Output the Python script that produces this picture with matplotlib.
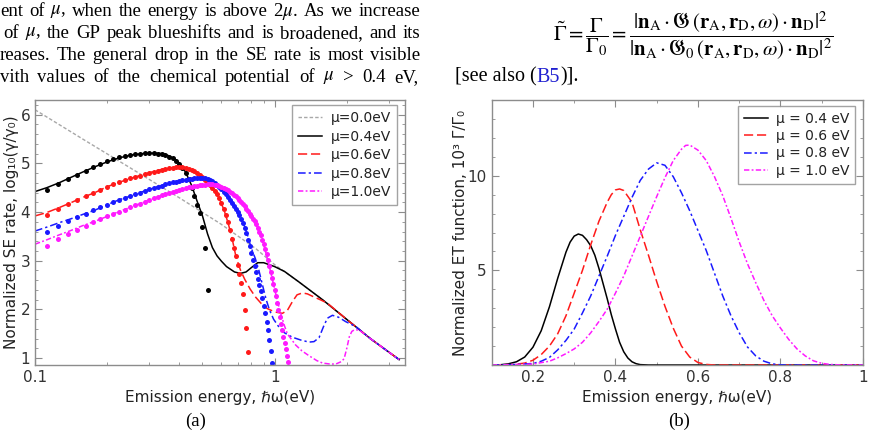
import numpy as np
import matplotlib
matplotlib.use('Agg')
import matplotlib.pyplot as plt
from matplotlib.ticker import LogLocator, MultipleLocator, NullFormatter

plt.rcParams['font.family'] = ['DejaVu Sans']
plt.rcParams['mathtext.fontset'] = 'stix'

# ---------------- panel (a): SE rate, log10(gamma/gamma0) ----------------
grey_x = [0.1, 0.158, 0.251, 0.398, 0.594, 0.834, 1.0, 1.259, 1.585, 1.995, 2.512, 3.31]
grey_y = [6.1, 5.5, 4.9, 4.3, 3.76, 3.25, 2.92, 2.57, 2.2, 1.8, 1.4, 0.97]

black_x = [0.1, 0.112, 0.126, 0.141, 0.158, 0.178, 0.2, 0.224, 0.251, 0.282, 0.316, 0.34, 0.36,
           0.38, 0.4, 0.425, 0.45, 0.475, 0.5, 0.525, 0.55, 0.575, 0.6, 0.63, 0.68, 0.72, 0.76,
           0.8, 0.85, 0.9, 1.0, 1.1, 1.259, 1.585, 1.995, 2.512, 3.31]
black_y = [4.42, 4.5, 4.6, 4.71, 4.82, 4.93, 5.03, 5.11, 5.17, 5.2, 5.21, 5.2, 5.16,
           5.1, 5.0, 4.82, 4.55, 4.22, 3.92, 3.55, 3.27, 3.1, 2.99, 2.88, 2.77, 2.74, 2.77,
           2.86, 2.96, 2.96, 2.88, 2.78, 2.57, 2.2, 1.8, 1.4, 0.97]

red_x = [0.1, 0.112, 0.126, 0.141, 0.158, 0.178, 0.2, 0.224, 0.251, 0.282, 0.316, 0.355, 0.39,
         0.42, 0.46, 0.5, 0.53, 0.557, 0.585, 0.614, 0.64, 0.665, 0.69, 0.72, 0.75, 0.79, 0.834,
         0.88, 0.93, 1.0, 1.077, 1.13, 1.186, 1.24, 1.306, 1.37, 1.44, 1.55, 1.66, 1.995, 2.512, 3.31]
red_y = [3.92, 3.99, 4.09, 4.19, 4.3, 4.4, 4.52, 4.61, 4.69, 4.77, 4.84, 4.9, 4.92,
         4.92, 4.85, 4.71, 4.59, 4.46, 4.3, 4.05, 3.77, 3.45, 3.08, 2.81, 2.62, 2.42, 2.25,
         2.12, 2.02, 1.95, 1.92, 1.98, 2.16, 2.3, 2.34, 2.32, 2.27, 2.2, 2.13, 1.8, 1.4, 0.97]

blue_x = [0.1, 0.112, 0.126, 0.141, 0.158, 0.178, 0.2, 0.224, 0.251, 0.282, 0.316, 0.355, 0.4,
          0.44, 0.48, 0.52, 0.557, 0.6, 0.634, 0.67, 0.709, 0.74, 0.77, 0.8, 0.83, 0.86, 0.89,
          0.92, 0.95, 0.99, 1.042, 1.1, 1.186, 1.29, 1.392, 1.46, 1.532, 1.6, 1.66, 1.743, 1.85,
          1.98, 2.18, 2.512, 3.31]
blue_y = [3.61, 3.69, 3.78, 3.86, 3.95, 4.04, 4.15, 4.25, 4.33, 4.42, 4.5, 4.58, 4.64,
          4.68, 4.7, 4.69, 4.62, 4.47, 4.33, 4.15, 3.96, 3.78, 3.53, 3.25, 3.05, 2.8, 2.5,
          2.22, 2.0, 1.8, 1.64, 1.52, 1.43, 1.37, 1.33, 1.34, 1.42, 1.65, 1.82, 1.88, 1.84,
          1.75, 1.65, 1.4, 0.97]

mag_x = [0.1, 0.112, 0.126, 0.141, 0.158, 0.178, 0.2, 0.224, 0.251, 0.282, 0.316, 0.355, 0.4,
         0.45, 0.5, 0.55, 0.6, 0.65, 0.7, 0.75, 0.8, 0.84, 0.874, 0.9, 0.94, 0.97, 1.0, 1.03,
         1.06, 1.1, 1.13, 1.224, 1.3, 1.392, 1.5, 1.585, 1.7, 1.8, 1.9, 1.95, 2.0, 2.05, 2.1,
         2.15, 2.25, 2.512, 3.31]
mag_y = [3.34, 3.43, 3.53, 3.62, 3.72, 3.81, 3.91, 4.01, 4.1, 4.2, 4.29, 4.38, 4.45,
         4.52, 4.56, 4.57, 4.52, 4.42, 4.28, 4.12, 3.92, 3.72, 3.52, 3.33, 2.98, 2.7, 2.42, 2.15,
         1.92, 1.66, 1.5, 1.27, 1.15, 1.05, 0.95, 0.9, 0.88, 0.88, 0.93, 0.99, 1.2, 1.44, 1.55,
         1.58, 1.58, 1.4, 0.97]

# energies of the dotted (approximate) results, shared by all four dot series
dot_x = [0.1125, 0.125, 0.1375, 0.15, 0.1625, 0.175, 0.1875, 0.2, 0.2125, 0.225, 0.2375, 0.25,
         0.2625, 0.275, 0.2875, 0.3, 0.3125, 0.325, 0.3375, 0.35, 0.3625, 0.375, 0.3875, 0.4,
         0.4125, 0.425, 0.4375, 0.45, 0.4625, 0.475, 0.4875, 0.5, 0.5125, 0.525, 0.5375, 0.55,
         0.5625, 0.575, 0.5875, 0.6, 0.6125, 0.625, 0.6375, 0.65, 0.6625, 0.675, 0.6875, 0.7,
         0.7125, 0.725, 0.7375, 0.75, 0.7625, 0.775, 0.7875, 0.8, 0.8125, 0.825, 0.8375, 0.85,
         0.8625, 0.875, 0.8875, 0.9, 0.9125, 0.925, 0.9375, 0.95, 0.9625, 0.975, 0.9875, 1.0,
         1.0125, 1.025, 1.0375, 1.05, 1.0625, 1.075, 1.0875, 1.1, 1.1125, 1.125, 1.1375]

black_dots = [4.46, 4.58, 4.68, 4.77, 4.85, 4.92, 4.99, 5.04, 5.08, 5.12, 5.15, 5.17, 5.19, 5.2,
              5.21, 5.21, 5.21, 5.2, 5.19, 5.17, 5.14, 5.1, 5.05, 4.98, 4.9, 4.8, 4.67, 4.5,
              4.32, 4.15, 3.98, 3.7, 3.27, 2.4]
red_dots = [3.94, 4.06, 4.16, 4.25, 4.33, 4.4, 4.46, 4.52, 4.57, 4.61, 4.65, 4.69, 4.72, 4.75,
            4.78, 4.81, 4.83, 4.85, 4.87, 4.89, 4.9, 4.91, 4.92, 4.92, 4.92, 4.91, 4.89, 4.87,
            4.84, 4.8, 4.76, 4.71, 4.66, 4.61, 4.56, 4.5, 4.44, 4.37, 4.29, 4.19, 4.07, 3.93,
            3.79, 3.63, 3.45, 3.27, 3.09, 2.91, 2.73, 2.55, 2.32, 1.99, 1.61, 1.13]
blue_dots = [3.58, 3.72, 3.82, 3.9, 3.97, 4.04, 4.1, 4.15, 4.2, 4.25, 4.29, 4.33, 4.37, 4.4,
             4.44, 4.47, 4.49, 4.52, 4.54, 4.57, 4.59, 4.61, 4.62, 4.64, 4.65, 4.66, 4.67, 4.68,
             4.69, 4.69, 4.7, 4.7, 4.69, 4.68, 4.66, 4.63, 4.6, 4.56, 4.52, 4.47, 4.42, 4.37,
             4.31, 4.25, 4.19, 4.13, 4.07, 4.01, 3.94, 3.86, 3.78, 3.68, 3.56, 3.43, 3.3, 3.16,
             3.02, 2.89, 2.76, 2.63, 2.5, 2.37, 2.23, 2.08, 1.92, 1.75, 1.57, 1.37, 1.15, 0.91]
mag_dots = [3.3, 3.45, 3.55, 3.64, 3.72, 3.79, 3.85, 3.91, 3.96, 4.01, 4.05, 4.1, 4.14, 4.17,
            4.21, 4.25, 4.28, 4.31, 4.34, 4.37, 4.39, 4.41, 4.43, 4.45, 4.47, 4.49, 4.51, 4.52,
            4.53, 4.54, 4.55, 4.56, 4.56, 4.57, 4.57, 4.57, 4.56, 4.55, 4.54, 4.52, 4.5, 4.48,
            4.45, 4.42, 4.39, 4.35, 4.32, 4.28, 4.24, 4.2, 4.16, 4.12, 4.07, 4.02, 3.97, 3.92,
            3.86, 3.81, 3.75, 3.68, 3.6, 3.52, 3.43, 3.34, 3.24, 3.13, 3.01, 2.89, 2.77, 2.65,
            2.53, 2.4, 2.27, 2.13, 1.99, 1.85, 1.71, 1.57, 1.44, 1.31, 1.18, 1.05, 0.92]

labels_a = ['μ=0.0eV', 'μ=0.4eV', 'μ=0.6eV', 'μ=0.8eV', 'μ=1.0eV']

# ---------------- panel (b): ET function, 10^3 Gamma/Gamma0 ----------------
b_black_x = [0.1, 0.12, 0.14, 0.16, 0.18, 0.2, 0.22, 0.24, 0.26, 0.28, 0.29, 0.3, 0.31, 0.32,
             0.33, 0.34, 0.35, 0.36, 0.37, 0.38, 0.39, 0.4, 0.41, 0.42, 0.43, 0.44, 0.45, 0.46,
             0.48, 0.5, 1.0]
b_black_y = [0.0, 0.01, 0.06, 0.17, 0.42, 0.94, 1.81, 3.08, 4.58, 5.96, 6.49, 6.81, 6.92, 6.85,
             6.62, 6.3, 5.8, 5.1, 4.3, 3.5, 2.65, 1.9, 1.2, 0.7, 0.37, 0.17, 0.07, 0.02,
             0.0, 0.0, 0.0]
b_red_x = [0.1, 0.15, 0.18, 0.2, 0.22, 0.24, 0.26, 0.28, 0.3, 0.32, 0.34, 0.36, 0.38, 0.39, 0.4,
           0.41, 0.42, 0.44, 0.46, 0.48, 0.5, 0.52, 0.54, 0.56, 0.58, 0.6, 0.62, 0.64, 1.0]
b_red_y = [0.0, 0.02, 0.1, 0.25, 0.55, 1.0, 1.65, 2.6, 3.8, 5.0, 6.35, 7.6, 8.6, 9.0, 9.25,
           9.3, 9.22, 8.6, 7.15, 5.8, 4.4, 3.1, 1.95, 1.0, 0.42, 0.13, 0.03, 0.0, 0.0]
b_blue_x = [0.1, 0.15, 0.2, 0.22, 0.24, 0.26, 0.28, 0.3, 0.32, 0.34, 0.36, 0.38, 0.4, 0.42, 0.44,
            0.46, 0.48, 0.5, 0.52, 0.54, 0.56, 0.58, 0.6, 0.62, 0.64, 0.66, 0.68, 0.7, 0.72,
            0.74, 0.76, 0.78, 0.8, 0.82, 1.0]
b_blue_y = [0.0, 0.02, 0.08, 0.2, 0.4, 0.8, 1.3, 1.9, 2.75, 3.65, 4.7, 5.75, 6.85, 7.85, 8.85,
            9.75, 10.35, 10.68, 10.55, 9.95, 9.1, 8.15, 7.1, 6.05, 4.85, 3.65, 2.6, 1.7, 0.95,
            0.48, 0.2, 0.06, 0.01, 0.0, 0.0]
b_mag_x = [0.1, 0.2, 0.24, 0.26, 0.28, 0.3, 0.32, 0.34, 0.36, 0.38, 0.4, 0.42, 0.44, 0.46, 0.48,
           0.5, 0.52, 0.54, 0.56, 0.57, 0.58, 0.6, 0.62, 0.64, 0.66, 0.68, 0.7, 0.72, 0.74,
           0.76, 0.78, 0.8, 0.82, 0.84, 0.86, 0.88, 0.9, 0.92, 0.94, 1.0]
b_mag_y = [0.0, 0.05, 0.2, 0.38, 0.6, 0.85, 1.2, 1.7, 2.3, 2.95, 3.8, 4.7, 5.75, 6.8, 7.85,
           8.9, 9.9, 10.8, 11.4, 11.6, 11.62, 11.35, 10.8, 9.95, 8.95, 7.75, 6.5, 5.35, 4.35,
           3.4, 2.6, 1.95, 1.35, 0.85, 0.48, 0.22, 0.09, 0.03, 0.01, 0.0]

labels_b = ['μ = 0.4 eV', 'μ = 0.6 eV', 'μ = 0.8 eV', 'μ = 1.0 eV']

# styles
GREY = '#a8a8a8'
RED = '#ff1a1a'
BLUE = '#1a1aff'
MAG = '#ff1aff'
DASH = (0, (6, 2.5))
DASHDOT = (0, (5, 2, 1.5, 2))
DASHDOTDOT = (0, (3.5, 1.5, 1.2, 1.5))
SPINE = '#8c8c8c'
TXT = '#333333'
LBL = '#222222'

W, H = 884, 441
fig = plt.figure(figsize=(W / 100, H / 100), dpi=100)
renderer = fig.canvas.get_renderer()


def px(x, y):
    return x / W, 1 - y / H


def style_axes(ax):
    for s in ax.spines.values():
        s.set_color(SPINE)
        s.set_linewidth(1.0)
    ax.tick_params(which='both', direction='in', top=True, right=True, color=SPINE,
                   labelcolor=TXT, labelsize=11)
    ax.tick_params(which='major', length=5)
    ax.tick_params(which='minor', length=2.5)


def justified(line, x0, x1, y, size):
    # spread the words of one line of paper text between x0 and x1 (pixels)
    words = line.split(' ')
    texts = [fig.text(0, 0, w, family='Liberation Serif', fontsize=size, va='center')
             for w in words]
    widths = [t.get_window_extent(renderer).width for t in texts]
    gap = (x1 - x0 - sum(widths)) / max(len(words) - 1, 1)
    x = x0
    for t, w in zip(texts, widths):
        t.set_position(px(x, y))
        x += w + gap


# ---- paper text around the figure ----
body = [r'ent of $\mu$, when the energy is above 2$\mu$. As we increase',
        r'of $\mu$, the GP peak blueshifts and is broadened, and its',
        'reases. The general drop in the SE rate is most visible',
        r'vith values of the chemical potential of $\mu$ > 0.4 eV,']
starts = [0, 3, 0, 0]
ends = [420, 420, 420, 418]
for i, line in enumerate(body):
    justified(line, starts[i], ends[i], 11 + 22.3 * i, 13.5)

eq = (r'$\tilde{\Gamma}=\dfrac{\Gamma}{\Gamma_0}=\dfrac{|\mathbf{n}_{\rm A}\cdot\mathfrak{G}'
      r'\,(\mathbf{r}_{\rm A},\mathbf{r}_{\rm D},\omega)\cdot\mathbf{n}_{\rm D}|^2}'
      r'{|\mathbf{n}_{\rm A}\cdot\mathfrak{G}_0\,(\mathbf{r}_{\rm A},\mathbf{r}_{\rm D},'
      r'\omega)\cdot\mathbf{n}_{\rm D}|^2}$')
fig.text(*px(693, 36), eq, fontsize=15, ha='center', va='center')

xpos = 455
for piece, col in [('[see also (', 'black'), ('B5', '#2020d0'), (')].', 'black')]:
    t = fig.text(*px(xpos, 77), piece, family='Liberation Serif', fontsize=14.5,
                 va='center', ha='left', color=col)
    xpos += t.get_window_extent(renderer).width

# ---- panel (a) ----
ax1 = fig.add_axes([35 / W, 76 / H, 370 / W, 265 / H])
ax1.plot(grey_x, grey_y, color=GREY, lw=1.0, ls=(0, (2.5, 1.5)), label=labels_a[0])
ax1.plot(black_x, black_y, color='black', lw=1.1, label=labels_a[1])
ax1.plot(red_x, red_y, color=RED, lw=1.1, ls=DASH, label=labels_a[2])
ax1.plot(blue_x, blue_y, color=BLUE, lw=1.1, ls=DASHDOT, label=labels_a[3])
ax1.plot(mag_x, mag_y, color=MAG, lw=1.1, ls=DASHDOTDOT, label=labels_a[4])
for vals, col in [(black_dots, 'black'), (red_dots, RED), (blue_dots, BLUE), (mag_dots, MAG)]:
    ax1.plot(dot_x[:len(vals)], vals, 'o', color=col, ms=3.6, mew=0)

ax1.set_xscale('log')
ax1.set_xlim(0.1, 3.5)
ax1.set_ylim(0.86, 6.3)
ax1.set_xticks([0.1, 1])
ax1.set_xticklabels(['0.1', '1'])
ax1.xaxis.set_minor_locator(LogLocator(base=10, subs=np.arange(2, 10)))
ax1.xaxis.set_minor_formatter(NullFormatter())
ax1.set_yticks([1, 2, 3, 4, 5, 6])
ax1.yaxis.set_minor_locator(MultipleLocator(0.2))
style_axes(ax1)
ax1.set_xlabel('Emission energy, ℏω(eV)', fontsize=11, color=LBL, labelpad=4)
ax1.set_ylabel('Normalized SE rate, log₁₀(γ/γ₀)', fontsize=11, color=LBL, labelpad=1)
leg = ax1.legend(loc='upper right', bbox_to_anchor=(1 - 8 / 370, 1 - 5 / 265),
                 borderaxespad=0, fancybox=False, edgecolor=SPINE, fontsize=10,
                 handlelength=1.7, labelspacing=0.32, borderpad=0.45, handletextpad=0.6)
leg.get_frame().set_linewidth(1.0)
for t in leg.get_texts():
    t.set_color(LBL)

# ---- panel (b) ----
ax2 = fig.add_axes([491.7 / W, 76 / H, 371.3 / W, 265 / H])
ax2.plot(b_black_x, b_black_y, color='black', lw=1.1, label=labels_b[0])
ax2.plot(b_red_x, b_red_y, color=RED, lw=1.1, ls=DASH, label=labels_b[1])
ax2.plot(b_blue_x, b_blue_y, color=BLUE, lw=1.1, ls=DASHDOT, label=labels_b[2])
ax2.plot(b_mag_x, b_mag_y, color=MAG, lw=1.1, ls=DASHDOTDOT, label=labels_b[3])
ax2.set_xlim(0.1, 1.0)
ax2.set_ylim(0, 14)
ax2.set_xticks([0.2, 0.4, 0.6, 0.8, 1.0])
ax2.set_xticklabels(['0.2', '0.4', '0.6', '0.8', '1'])
ax2.xaxis.set_minor_locator(MultipleLocator(0.1))
ax2.set_yticks([5, 10])
ax2.yaxis.set_minor_locator(MultipleLocator(1))
style_axes(ax2)
ax2.set_xlabel('Emission energy, ℏω(eV)', fontsize=11, color=LBL, labelpad=4)
ax2.set_ylabel('Normalized ET function, 10³ Γ/Γ₀', fontsize=11, color=LBL, labelpad=0)
leg2 = ax2.legend(loc='upper right', bbox_to_anchor=(1 - 8 / 371, 1 - 6 / 265),
                  borderaxespad=0, fancybox=False, edgecolor=SPINE, fontsize=10,
                  handlelength=1.7, labelspacing=0.25, borderpad=0.4, handletextpad=0.6)
leg2.get_frame().set_linewidth(1.0)
for t in leg2.get_texts():
    t.set_color(LBL)

fig.text(*px(196, 421), '(a)', family='Liberation Serif', fontsize=13.5, ha='center', va='center')
fig.text(*px(679, 421), '(b)', family='Liberation Serif', fontsize=13.5, ha='center', va='center')

fig.savefig('out.png', dpi=100)
